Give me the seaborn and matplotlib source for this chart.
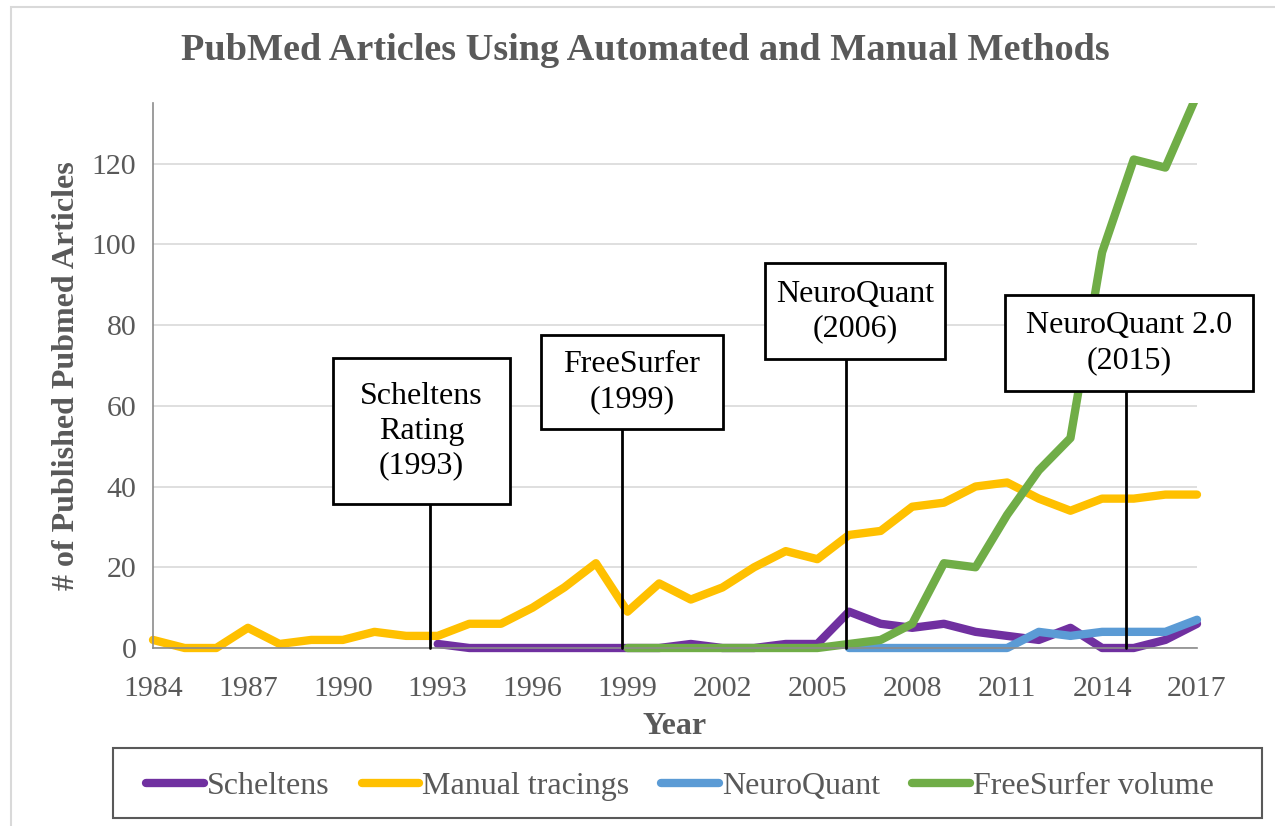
import numpy as np
import pandas as pd
import matplotlib
matplotlib.use("Agg")
import matplotlib.pyplot as plt
from matplotlib.patches import Rectangle
import seaborn as sns

years = list(range(1984, 2018))
nan = np.nan
manual = [2, 0, 0, 5, 1, 2, 2, 4, 3, 3, 6, 6, 10, 15, 21, 9, 16, 12, 15, 20,
          24, 22, 28, 29, 35, 36, 40, 41, 37, 34, 37, 37, 38, 38]
scheltens = [nan] * 9 + [1, 0, 0, 0, 0, 0, 0, 0, 1, 0, 0, 1, 1, 9, 6, 5, 6, 4, 3,
                         2, 5, 0, 0, 2, 6]
neuroquant = [nan] * 22 + [0, 0, 0, 0, 0, 0, 4, 3, 4, 4, 4, 7]
freesurfer = [nan] * 15 + [0, 0, 0, 0, 0, 0, 0, 1, 2, 6, 21, 20, 33, 44, 52,
                           98, 121, 119, 137]
series_names = ["Scheltens", "Manual tracings", "NeuroQuant", "FreeSurfer volume"]
colors = ["#7030A0", "#FFC000", "#5B9BD5", "#70AD47"]
annotations = [("Scheltens\nRating\n(1993)", 1993),
               ("FreeSurfer\n(1999)", 1999),
               ("NeuroQuant\n(2006)", 2006),
               ("NeuroQuant 2.0\n(2015)", 2015)]

df = pd.DataFrame({
    "Year": years * 4,
    "Value": scheltens + manual + neuroquant + freesurfer,
    "Series": sum([[n] * len(years) for n in series_names], []),
})

sns.set_style("white")
plt.rcParams["font.family"] = ["Liberation Serif", "DejaVu Serif"]
gray = "#595959"

fig = plt.figure(figsize=(12.75, 8.26), dpi=100)
ax = fig.add_axes([153 / 1275, 1 - 648 / 826, (1197 - 153) / 1275, (648 - 103) / 826])

sns.lineplot(data=df, x="Year", y="Value", hue="Series", hue_order=series_names,
             palette=colors, linewidth=6, ax=ax, legend=False)
clip = Rectangle((-0.02, -0.05), 1.04, 1.05, transform=ax.transAxes, visible=False)
ax.add_patch(clip)
for ln in ax.lines:
    ln.set_solid_joinstyle("round")
    ln.set_solid_capstyle("round")
    ln.set_clip_path(clip)

ax.set_xlim(1984, 2017)
ax.set_ylim(0, 135)
ax.set_xticks(range(1984, 2018, 3))
ax.set_xticks(range(1984, 2018), minor=True)
ax.set_yticks(range(0, 121, 20))
ax.tick_params(axis="both", which="both", direction="out", color="#8c8c8c",
               labelcolor=gray, labelsize=21.5, length=7, width=1.2)
ax.tick_params(axis="x", which="both", pad=13)
ax.tick_params(axis="y", which="both", pad=5)
ax.yaxis.grid(True, color="#d9d9d9", linewidth=1.2)
ax.set_axisbelow(True)
for s in ["top", "right"]:
    ax.spines[s].set_visible(False)
for s in ["left", "bottom"]:
    ax.spines[s].set_color("#8c8c8c")
    ax.spines[s].set_linewidth(1.2)

ax.set_xlabel("Year", fontsize=23, fontweight="bold", color=gray, labelpad=7)
ax.set_ylabel("# of Published Pubmed Articles", fontsize=23, fontweight="bold",
              color=gray, labelpad=8)
fig.text(645 / 1275, 1 - 51 / 826, "PubMed Articles Using Automated and Manual Methods",
         ha="center", va="center", fontsize=27.5, fontweight="bold", color=gray)

# annotation callouts (box extents in data coordinates)
boxes = [(1989.69, 1995.28, 35.6, 71.8, 1992.75),
         (1996.26, 2002.01, 54.2, 77.5, 1998.82),
         (2003.34, 2009.03, 71.5, 95.3, 2005.90),
         (2010.93, 2018.77, 63.6, 87.4, 2014.75)]
for (label, yr), (x0, x1, y0, y1, lx) in zip(annotations, boxes):
    ax.plot([lx, lx], [0, y0], color="black", lw=2, zorder=5, clip_on=False)
    ax.add_patch(Rectangle((x0, y0), x1 - x0, y1 - y0, facecolor="white",
                           edgecolor="black", lw=2, zorder=6, clip_on=False))
    ax.text((x0 + x1) / 2, (y0 + y1) / 2, label, ha="center", va="center",
            fontsize=23, color="black", zorder=7, linespacing=1.25)

handles = [plt.Line2D([], [], color=c, lw=6, solid_capstyle="round") for c in colors]
leg = fig.legend(handles, series_names, loc="center", ncol=4,
                 bbox_to_anchor=(680 / 1275, 1 - 786 / 826),
                 frameon=False, fontsize=23,
                 handlelength=1.8, handletextpad=0.1, borderaxespad=0, columnspacing=1.0)
for t in leg.get_texts():
    t.set_color(gray)
fig.patches.append(Rectangle((113 / 1275, 8 / 826), (1262 - 113) / 1275, 70 / 826,
                             transform=fig.transFigure, fill=False,
                             edgecolor="#595959", lw=1.5))

fig.patches.append(Rectangle((11 / 1275, -0.1), 1.1, 1 - 7 / 826 + 0.1,
                             transform=fig.transFigure, fill=False,
                             edgecolor="#d9d9d9", lw=1.5))

fig.savefig("out.png", dpi=100)
